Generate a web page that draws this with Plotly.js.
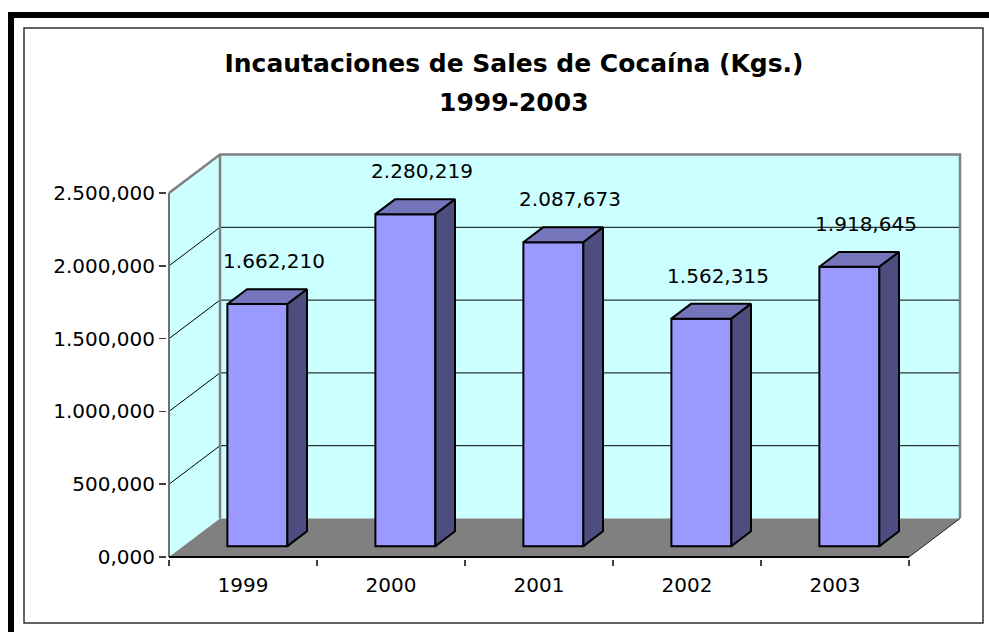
<!DOCTYPE html>
<html>
<head>
<meta charset="utf-8">
<script src="https://cdn.plot.ly/plotly-3.0.1.min.js"></script>
<style>
  html, body { margin: 0; padding: 0; background: #ffffff; }
  #chart { width: 989px; height: 632px; }
</style>
</head>
<body>
<div id="chart"></div>
<script>
// ---- data ----
const years = ['1999', '2000', '2001', '2002', '2003'];
const seizures = [1662.210, 2280.219, 2087.673, 1562.315, 1918.645];
const yTickValues = [0, 500, 1000, 1500, 2000, 2500];
const titleLines = ['Incautaciones de Sales de Cocaína (Kgs.)', '1999-2003'];

// ---- geometry (pixels -> axis units) ----
const FIG_W = 989, FIG_H = 632;
const AX_X0 = 169, AX_Y0 = 557;          // front origin pixel
const PX_PER_CAT = 148;                  // category spacing
const PX_PER_UNIT = 364 / 2500;          // value scale
const PLOT_L = 167, PLOT_R = 969, PLOT_T = 146, PLOT_B = 559;
const xr = [-0.5 - (AX_X0 - PLOT_L) / PX_PER_CAT, -0.5 + (PLOT_R - AX_X0) / PX_PER_CAT];
const yr = [-(PLOT_B - AX_Y0) / PX_PER_UNIT, (AX_Y0 - PLOT_T) / PX_PER_UNIT];
const DX = 51 / PX_PER_CAT;              // depth offset of back wall
const DY = 38.5 / PX_PER_UNIT;
const F1 = 11 / 39, F2 = 26 / 39;        // bar front/back depth fractions
const BW = 60 / PX_PER_CAT;              // bar width
const LBL_DX = 31 / PX_PER_CAT, LBL_DY = 52 / PX_PER_UNIT;
const nCat = years.length;
const YTOP = yTickValues[yTickValues.length - 1];
const X0 = -0.5, X1 = nCat - 0.5;

const CYAN = '#CCFFFF', FLOOR = '#808080', WALLEDGE = '#808080';
const FRONT = '#9999FF', TOP = '#7575BC', SIDE = '#4D4D80';
const FONT = 'DejaVu Sans, Verdana, sans-serif';

function fmt(v) {
  const s = v.toFixed(3).split('.');
  const intPart = s[0].replace(/\B(?=(\d{3})+(?!\d))/g, '.');
  return intPart + ',' + s[1];
}

const traces = [];
function poly(xs, ys, fill, lineColor, lineWidth, axes) {
  traces.push({
    type: 'scatter', mode: lineColor ? 'lines' : 'none',
    x: xs.concat([xs[0]]), y: ys.concat([ys[0]]),
    fill: 'toself', fillcolor: fill,
    line: { color: lineColor || fill, width: lineWidth || 0 },
    hoverinfo: 'skip', showlegend: false,
    xaxis: axes ? axes[0] : 'x', yaxis: axes ? axes[1] : 'y'
  });
}
function path(xs, ys, color, width) {
  traces.push({
    type: 'scatter', mode: 'lines', x: xs, y: ys,
    line: { color: color, width: width }, connectgaps: false,
    hoverinfo: 'skip', showlegend: false, xaxis: 'x', yaxis: 'y'
  });
}

// side wall and back wall
poly([X0, X0, X0 + DX, X0 + DX], [0, YTOP, YTOP + DY, DY], CYAN);
poly([X0 + DX, X0 + DX, X1 + DX, X1 + DX], [DY, YTOP + DY, YTOP + DY, DY], CYAN);
// gridlines on walls
const gx = [], gy = [];
yTickValues.slice(1, -1).forEach(v => {
  gx.push(X0, X0 + DX, X1 + DX, null);
  gy.push(v, v + DY, v + DY, null);
});
path(gx, gy, '#000000', 1);
// floor
poly([X0, X1, X1 + DX, X0 + DX], [0, 0, DY, DY], FLOOR);
// wall borders
path([X0, X0 + DX, X1 + DX, X1 + DX], [YTOP, YTOP + DY, YTOP + DY, DY], WALLEDGE, 2.5);
path([X0 + DX, X0 + DX], [YTOP + DY, DY], WALLEDGE, 2.5);
path([X1, X1 + DX], [0, DY], '#202020', 1);
// axis lines
path([X0, X0], [0, YTOP], '#707070', 2);
path([X0, X1], [0, 0], '#000000', 2);

// bars (front faces) on overlay subplot
const barX = seizures.map((v, i) => i + F1 * DX);
traces.push({
  type: 'bar', x: barX, y: seizures, base: F1 * DY, width: BW,
  marker: { color: FRONT, line: { color: '#000000', width: 2 } },
  xaxis: 'x2', yaxis: 'y2', hoverinfo: 'skip', showlegend: false
});
const DDX = (F2 - F1) * DX, DDY = (F2 - F1) * DY;
seizures.forEach((v, i) => {
  const xl = barX[i] - BW / 2, xrr = barX[i] + BW / 2;
  const yb = F1 * DY, yt = v + F1 * DY;
  poly([xl, xrr, xrr + DDX, xl + DDX], [yt, yt, yt + DDY, yt + DDY], TOP, '#000000', 2, ['x2', 'y2']);
  poly([xrr, xrr, xrr + DDX, xrr + DDX], [yb, yt, yt + DDY, yb + DDY], SIDE, '#000000', 2, ['x2', 'y2']);
});
// data labels
traces.push({
  type: 'scatter', mode: 'text',
  x: seizures.map((v, i) => i + LBL_DX),
  y: seizures.map(v => v + LBL_DY),
  text: seizures.map(fmt),
  textposition: 'middle center',
  textfont: { family: FONT, size: 20, color: '#000000' },
  cliponaxis: false, hoverinfo: 'skip', showlegend: false,
  xaxis: 'x2', yaxis: 'y2'
});

// frame helpers (pixel -> paper)
const PW = PLOT_R - PLOT_L, PH = PLOT_B - PLOT_T;
const px = p => (p - PLOT_L) / PW;
const py = p => (PLOT_B - p) / PH;
const shapes = [
  { type: 'rect', xref: 'paper', yref: 'paper', x0: px(8), x1: px(989), y0: py(12), y1: py(18),
    fillcolor: '#000000', line: { width: 0 } },
  { type: 'rect', xref: 'paper', yref: 'paper', x0: px(8), x1: px(14), y0: py(12), y1: py(632),
    fillcolor: '#000000', line: { width: 0 } },
  { type: 'rect', xref: 'paper', yref: 'paper', x0: px(24), x1: px(983), y0: py(28), y1: py(623),
    fillcolor: 'rgba(0,0,0,0)', line: { color: '#303030', width: 1.5 } }
];
const titleFont = { family: FONT, size: 25, color: '#000000', weight: 'bold' };

const layout = {
  width: FIG_W, height: FIG_H,
  margin: { l: PLOT_L, r: FIG_W - PLOT_R, t: PLOT_T, b: FIG_H - PLOT_B, pad: 0 },
  paper_bgcolor: '#ffffff', plot_bgcolor: 'rgba(0,0,0,0)',
  separators: ',.',
  showlegend: false,
  title: {
    text: titleLines[0],
    font: titleFont,
    x: 514 / FIG_W, xref: 'container', xanchor: 'center',
    y: 1 - 63 / FIG_H, yref: 'container', yanchor: 'middle'
  },
  annotations: [{
    text: titleLines[1], font: titleFont, showarrow: false,
    xref: 'paper', yref: 'paper', x: px(514), y: py(102),
    xanchor: 'center', yanchor: 'middle'
  }],
  xaxis: {
    range: xr, tickmode: 'array', tickvals: years.map((y, i) => i), ticktext: years,
    ticks: '', showgrid: false, zeroline: false, showline: false,
    tickfont: { family: FONT, size: 20, color: '#000000' },
    ticklabelstandoff: 12, fixedrange: true
  },
  yaxis: {
    range: yr, tickmode: 'array', tickvals: yTickValues, tickformat: ',.3f',
    ticks: 'outside', ticklen: 7, tickwidth: 1.5, tickcolor: '#404040',
    showgrid: false, zeroline: false, showline: false,
    tickfont: { family: FONT, size: 20, color: '#000000' }, fixedrange: true
  },
  xaxis2: {
    overlaying: 'x', range: xr, tickmode: 'array',
    tickvals: years.map((y, i) => i - 0.5).concat([nCat - 0.5]),
    ticks: 'outside', ticklen: 6, tickwidth: 1.5, tickcolor: '#404040',
    showticklabels: false, showgrid: false, zeroline: false, showline: false, fixedrange: true
  },
  yaxis2: {
    overlaying: 'y', range: yr, visible: false, showgrid: false, zeroline: false, fixedrange: true
  },
  shapes: shapes
};

Plotly.newPlot('chart', traces, layout, { displayModeBar: false, staticPlot: true });
</script>
</body>
</html>
